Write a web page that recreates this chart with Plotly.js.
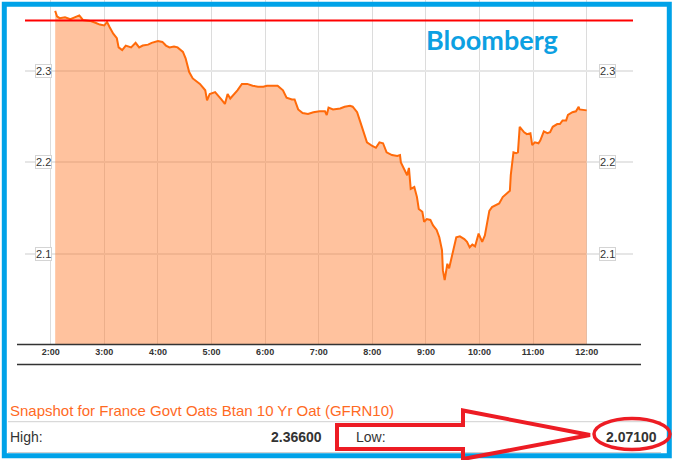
<!DOCTYPE html>
<html>
<head>
<meta charset="utf-8">
<script src="https://cdn.plot.ly/plotly-3.0.1.min.js"></script>
<style>
html,body{margin:0;padding:0;background:#fff;}
#chart{width:673px;height:460px;}
</style>
</head>
<body>
<div id="chart"></div>
<script>
// ---- data ----
const day = "2015-01-01";
const times = ["2:05","2:07","2:10","2:16","2:22","2:27","2:32","2:36","2:44","2:50","2:55","3:00","3:03","3:06","3:10","3:14","3:16","3:20","3:24","3:30","3:33","3:35","3:39","3:43","3:49","3:53","4:00","4:05","4:09","4:13","4:18","4:22","4:28","4:31","4:35","4:39","4:47","4:53","4:55","4:58","5:04","5:07","5:11","5:15","5:18","5:21","5:24","5:29","5:34","5:40","5:46","5:52","5:58","6:02","6:08","6:14","6:20","6:24","6:30","6:33","6:37","6:42","6:48","6:54","7:01","7:07","7:09","7:11","7:16","7:24","7:29","7:35","7:38","7:43","7:46","7:50","7:54","8:00","8:04","8:08","8:12","8:16","8:22","8:28","8:31","8:32","8:36","8:39","8:41","8:43","8:47","8:50","8:52","8:56","8:58","9:01","9:05","9:08","9:12","9:15","9:18","9:19","9:21","9:24","9:26","9:28","9:31","9:34","9:38","9:43","9:46","9:49","9:52","9:55","9:59","10:03","10:06","10:11","10:14","10:18","10:22","10:26","10:31","10:34","10:35","10:38","10:41","10:43","10:45","10:50","10:53","10:57","10:59","11:02","11:06","11:08","11:12","11:16","11:19","11:22","11:27","11:30","11:33","11:37","11:39","11:44","11:48","11:51","11:52","11:57","12:00"];
const yields = [2.366,2.360,2.358,2.359,2.357,2.359,2.361,2.356,2.355,2.353,2.351,2.350,2.354,2.348,2.341,2.336,2.326,2.323,2.328,2.326,2.329,2.331,2.326,2.328,2.329,2.331,2.333,2.332,2.328,2.326,2.327,2.326,2.321,2.314,2.299,2.292,2.286,2.279,2.268,2.275,2.277,2.273,2.269,2.264,2.275,2.270,2.273,2.279,2.286,2.286,2.284,2.283,2.283,2.284,2.284,2.284,2.279,2.271,2.269,2.269,2.258,2.254,2.253,2.255,2.256,2.256,2.252,2.260,2.258,2.259,2.261,2.262,2.261,2.255,2.246,2.233,2.222,2.218,2.216,2.222,2.221,2.211,2.208,2.207,2.208,2.200,2.191,2.186,2.194,2.171,2.173,2.162,2.149,2.146,2.135,2.138,2.137,2.131,2.126,2.118,2.104,2.082,2.071,2.089,2.084,2.093,2.107,2.118,2.119,2.116,2.113,2.107,2.110,2.108,2.122,2.113,2.120,2.147,2.151,2.153,2.155,2.162,2.166,2.169,2.186,2.211,2.210,2.211,2.239,2.233,2.231,2.232,2.219,2.222,2.221,2.224,2.234,2.232,2.233,2.239,2.242,2.242,2.246,2.246,2.252,2.255,2.256,2.261,2.258,2.257,2.257];
const tickTimes = ["2:00","3:00","4:00","5:00","6:00","7:00","8:00","9:00","10:00","11:00","12:00"];
const tickLabels = ["2:00","3:00","4:00","5:00","6:00","7:00","8:00","9:00","10:00","11:00","12:00"];
const yTickValues = [2.1, 2.2, 2.3];
const yTickLabels = ["2.1", "2.2", "2.3"];
const redLineLevel = 2.3555;
const titleText = "Snapshot for France Govt Oats Btan 10 Yr Oat (GFRN10)";
const statLabels = ["High:", "Low:"];
const statValues = [2.366, 2.071];
const brandText = "Bloomberg";

// ---- helpers ----
const toDate = t => { const [h, m] = t.split(":"); return day + " " + h.padStart(2, "0") + ":" + m + ":00"; };
const W = 673, H = 460;
const M = {l: 25, r: 40, t: 0, b: 115};
const PW = W - M.l - M.r, PH = H - M.t - M.b;
const px = x => (x - M.l) / PW;
const py = y => (M.t + PH - y) / PH;

const trace = {
  type: "scatter", mode: "lines",
  x: times.map(toDate), y: yields,
  line: {color: "#ff6a0a", width: 2},
  fill: "tozeroy", fillcolor: "rgba(255,119,39,0.45)",
  hoverinfo: "skip"
};

const annotations = [];
yTickValues.forEach((v, i) => {
  [43, 607.7].forEach(xp => annotations.push({
    xref: "paper", yref: "y", x: px(xp), y: v, xanchor: "center", yanchor: "middle",
    text: yTickLabels[i], showarrow: false,
    font: {family: "Arial, Liberation Sans", size: 11, color: "#333"},
    bgcolor: "#fff", bordercolor: "#d4d4d4", borderwidth: 1, borderpad: 0
  }));
});
annotations.push({
  xref: "paper", yref: "paper", x: px(492), y: py(39), xanchor: "center", yanchor: "middle",
  text: brandText, showarrow: false,
  font: {family: "Lato", size: 27, weight: "bold", color: "#0ca0e2"}
});
annotations.push({
  xref: "paper", yref: "paper", x: px(8), y: py(410), xanchor: "left", yanchor: "middle",
  text: titleText, showarrow: false,
  font: {family: "Arial, Liberation Sans", size: 15, color: "#ff6a1f"}
});
annotations.push({
  xref: "paper", yref: "paper", x: px(8), y: py(437), xanchor: "left", yanchor: "middle",
  text: statLabels[0], showarrow: false,
  font: {family: "Arial, Liberation Sans", size: 14, color: "#333"}
});
annotations.push({
  xref: "paper", yref: "paper", x: px(324), y: py(437), xanchor: "right", yanchor: "middle",
  text: "<b>" + statValues[0].toFixed(5) + "</b>", showarrow: false,
  font: {family: "Arial, Liberation Sans", size: 14, color: "#333"}
});
annotations.push({
  xref: "paper", yref: "paper", x: px(354), y: py(437), xanchor: "left", yanchor: "middle",
  text: statLabels[1], showarrow: false,
  font: {family: "Arial, Liberation Sans", size: 14, color: "#333"}
});
annotations.push({
  xref: "paper", yref: "paper", x: px(659), y: py(437), xanchor: "right", yanchor: "middle",
  text: "<b>" + statValues[1].toFixed(5) + "</b>", showarrow: false,
  font: {family: "Arial, Liberation Sans", size: 14, color: "#333"}
});

const P = (x, y) => px(x) + "," + py(y);
const shapes = [
  // red reference line
  {type: "line", xref: "paper", yref: "y", x0: 0, x1: 1, y0: redLineLevel, y1: redLineLevel,
   line: {color: "#ff0000", width: 2}},
  // x axis line and line below labels
  {type: "line", xref: "paper", yref: "paper", x0: px(17), x1: px(641), y0: py(344.6), y1: py(344.6),
   line: {color: "#333", width: 1.5}},
  {type: "line", xref: "paper", yref: "paper", x0: px(17), x1: px(641), y0: py(364.5), y1: py(364.5),
   line: {color: "#333", width: 1.5}},
  // table lines
  {type: "line", xref: "paper", yref: "paper", x0: px(8), x1: px(661), y0: py(421.7), y1: py(421.7),
   line: {color: "#d0d0d0", width: 1}},
  {type: "line", xref: "paper", yref: "paper", x0: px(8), x1: px(661), y0: py(452.5), y1: py(452.5),
   line: {color: "#d0d0d0", width: 1}},
  // blue frame
  {type: "rect", xref: "paper", yref: "paper", x0: px(4.3), x1: px(669.3), y0: py(4.2), y1: py(455.7),
   line: {color: "#00a2e8", width: 5}},
  // hand-drawn arrow
  {type: "path", xref: "paper", yref: "paper",
   path: "M" + P(337, 425) + " L" + P(463, 425) + " L" + P(463, 410.5) + " L" + P(590, 435) +
         " L" + P(463, 459) + " L" + P(463, 449) + " L" + P(337, 449) + " Z",
   line: {color: "#ed1c24", width: 4}},
  // ellipse
  {type: "circle", xref: "paper", yref: "paper", x0: px(594), x1: px(670), y0: py(418.5), y1: py(449.5),
   line: {color: "#ed1c24", width: 3.5}}
];

const layout = {
  width: W, height: H,
  margin: M,
  paper_bgcolor: "#fff", plot_bgcolor: "#fff",
  showlegend: false,
  xaxis: {
    type: "date",
    range: [day + " 01:31:12", day + " 12:51:50"],
    tickvals: tickTimes.map(toDate), ticktext: tickLabels,
    tickfont: {family: "Arial, Liberation Sans", size: 9, weight: "bold", color: "#333"},
    showgrid: true, gridcolor: "#dcdcdc", gridwidth: 1,
    showline: false, zeroline: false, ticks: "", fixedrange: true
  },
  yaxis: {
    range: [2.0, 2.3779],
    tick0: 2.0, dtick: 0.1,
    showticklabels: false,
    showgrid: true, gridcolor: "#e6e6e6", gridwidth: 2,
    zeroline: false, showline: false, ticks: "", fixedrange: true
  },
  annotations: annotations,
  shapes: shapes
};

Plotly.newPlot("chart", [trace], layout, {displayModeBar: false, staticPlot: true});
</script>
</body>
</html>
